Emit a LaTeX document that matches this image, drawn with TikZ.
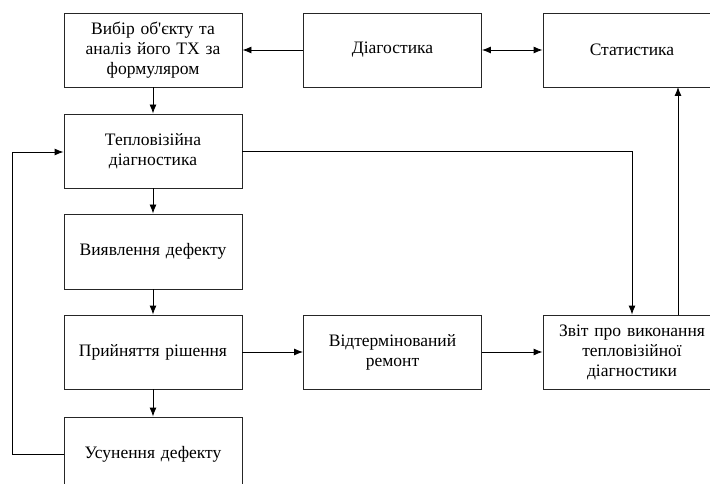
\documentclass[tikz,border=0pt]{standalone}
\usepackage{fontspec}
\setmainfont{Liberation Serif}
\usetikzlibrary{arrows.meta}
\begin{document}
\begin{tikzpicture}[x=1pt,y=-1pt,
  blk/.style={draw=black!85,line width=0.9pt,minimum width=178pt,minimum height=74pt,inner sep=2pt,align=center,text width=174pt,font=\fontsize{17.5}{20}\selectfont},
  conn/.style={draw=black,line width=0.9pt,-{Latex[length=9pt,width=7pt]}},
  bconn/.style={draw=black,line width=0.9pt,{Latex[length=9pt,width=7pt]}-{Latex[length=9pt,width=7pt]}}]
\useasboundingbox[fill=white] (0,0) rectangle (710,484);
\node[blk] (vyb) at (153,50) {Вибір об\textquotesingle єкту та\\аналіз його ТХ за\\формуляром};
\node[blk,minimum width=177pt] (diag) at (392.5,50) {Діагостика};
\node[blk] (stat) at (632,50) {Статистика};
\node[blk] (tepl) at (153,151) {Тепловізійна\\діагностика};
\node[blk,minimum height=75pt] (vyav) at (153,251.5) {Виявлення дефекту};
\node[blk] (pryi) at (153,352) {Прийняття рішення};
\node[blk,minimum width=177pt] (vidt) at (392.5,352) {Відтермінований\\ремонт};
\node[blk] (zvit) at (632,352) {Звіт про виконання\\тепловізійної\\діагностики};
\node[blk] (usun) at (153,454) {Усунення дефекту};
\coordinate (c1) at (632,151);
\coordinate (c2) at (678,315);
\coordinate (c3) at (678,87);
\coordinate (fbl) at (12,454);
\coordinate (fbu) at (12,152);
\draw[conn] (diag) -- (vyb);
\draw[bconn] (diag) -- (stat);
\draw[conn] (vyb) -- (tepl);
\draw[conn] (tepl) -- (vyav);
\draw[conn] (vyav) -- (pryi);
\draw[conn] (pryi) -- (usun);
\draw[conn] (pryi) -- (vidt);
\draw[conn] (vidt) -- (zvit);
\draw[conn] (tepl.east |- c1) -- (c1) -- (zvit.north -| c1);
\draw[conn] (c2) -- (c3);
\draw[conn] (usun.west) -- (fbl) -- (fbu) -- (tepl.west |- fbu);
\end{tikzpicture}
\end{document}
